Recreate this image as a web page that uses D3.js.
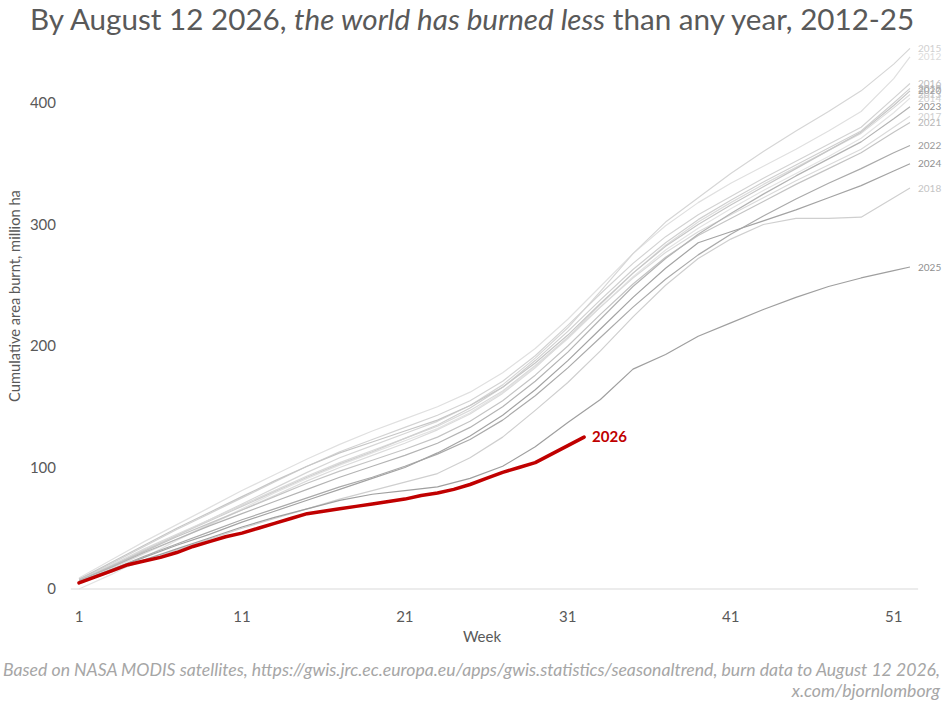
<!DOCTYPE html>
<html>
<head>
<meta charset="utf-8">
<script src="https://cdn.jsdelivr.net/npm/d3@7"></script>
<style>
  body { margin: 0; background: #fff; }
  text { font-family: Lato, "Open Sans", sans-serif; }
</style>
</head>
<body>
<div id="chart"></div>
<script>
// weeks shared by the 2012-2025 series
var weeks = [1, 3, 5, 7, 9, 11, 13, 15, 17, 19, 21, 23, 25, 27, 29, 31, 33, 35, 37, 39, 41, 43, 45, 47, 49, 51, 52];

var burn2012 = [9, 24, 39, 53, 67, 81, 94, 107, 119, 130, 140, 150, 162, 178, 198, 222, 249, 276, 299, 318, 334, 348, 362, 377, 393, 420, 438];
var burn2013 = [6, 17, 29, 41, 53, 65, 77, 89, 100, 110, 120, 131, 144, 161, 182, 207, 234, 260, 283, 302, 318, 333, 347, 361, 375, 396, 407];
var burn2014 = [0, 12, 26, 40, 53, 66, 79, 91, 102, 112, 122, 132, 145, 162, 183, 206, 232, 257, 279, 297, 313, 328, 342, 356, 371, 392, 404];
var burn2015 = [6, 18, 31, 44, 57, 70, 83, 96, 108, 118, 128, 138, 151, 168, 190, 215, 245, 276, 302, 322, 342, 360, 377, 393, 410, 432, 445];
var burn2016 = [8, 21, 35, 49, 62, 75, 88, 101, 113, 123, 133, 143, 155, 171, 192, 217, 243, 268, 290, 308, 323, 338, 352, 366, 380, 404, 416];
var burn2017 = [8, 20, 33, 45, 57, 69, 81, 93, 104, 114, 124, 134, 147, 163, 184, 207, 232, 256, 277, 294, 308, 322, 336, 349, 362, 380, 389];
var burn2018 = [5, 14, 23, 32, 41, 50, 58, 66, 74, 81, 88, 95, 108, 125, 147, 170, 196, 224, 250, 272, 288, 300, 305, 305, 306, 322, 330];
var burn2019 = [7, 19, 32, 44, 56, 68, 80, 92, 103, 113, 124, 135, 149, 166, 188, 212, 238, 263, 285, 304, 320, 335, 349, 363, 377, 400, 412];
var burn2020 = [8, 22, 36, 50, 63, 76, 89, 101, 112, 121, 130, 139, 151, 166, 186, 209, 235, 260, 282, 300, 316, 331, 346, 361, 376, 398, 410];
var burn2021 = [7, 19, 31, 43, 54, 65, 76, 87, 97, 106, 115, 125, 138, 155, 176, 200, 226, 251, 273, 291, 305, 319, 333, 346, 359, 376, 384];
var burn2022 = [6, 16, 27, 37, 47, 57, 66, 75, 84, 92, 101, 111, 123, 139, 159, 182, 207, 232, 255, 275, 292, 307, 321, 334, 346, 359, 365];
var burn2023 = [7, 18, 30, 41, 52, 62, 72, 82, 92, 101, 110, 120, 133, 150, 171, 195, 222, 249, 272, 292, 309, 325, 340, 354, 368, 387, 397];
var burn2024 = [6, 16, 26, 36, 45, 55, 64, 73, 82, 91, 100, 112, 126, 143, 164, 188, 214, 240, 264, 285, 294, 303, 312, 322, 332, 344, 350];
var burn2025 = [6, 15, 24, 33, 42, 51, 59, 66, 73, 78, 81, 84, 91, 101, 117, 137, 156, 181, 193, 208, 219, 230, 240, 249, 256, 262, 265];

// 2026 so far, week by week to August 12
var weeks2026 = [1, 2, 3, 4, 5, 6, 7, 8, 9, 10, 11, 12, 13, 14, 15, 16, 17, 18, 19, 20, 21, 22, 23, 24, 25, 26, 27, 28, 29, 30, 31, 32];
var burn2026 = [5, 10, 15, 20, 23, 26, 30, 35, 39, 43, 46, 50, 54, 58, 62, 64, 66, 68, 70, 72, 74, 77, 79, 82, 86, 91, 96, 100, 104, 111, 118, 125];

var yTicks = [0, 100, 200, 300, 400];
var xTicks = [1, 11, 21, 31, 41, 51];

var pastYears = [
    { year: "2014", values: burn2014 },
    { year: "2012", values: burn2012 },
    { year: "2013", values: burn2013 },
    { year: "2015", values: burn2015 },
    { year: "2017", values: burn2017 },
    { year: "2016", values: burn2016 },
    { year: "2018", values: burn2018 },
    { year: "2019", values: burn2019 },
    { year: "2020", values: burn2020 },
    { year: "2021", values: burn2021 },
    { year: "2023", values: burn2023 },
    { year: "2022", values: burn2022 },
    { year: "2024", values: burn2024 },
    { year: "2025", values: burn2025 }
];

// grey shades, lighter for the older / less notable years
var lineColor = {
    "2012": "#e0e0e0", "2013": "#dcdcdc", "2014": "#e3e3e3", "2015": "#d6d6d6",
    "2016": "#d3d3d3", "2017": "#dadada", "2018": "#cfcfcf", "2019": "#d0d0d0",
    "2020": "#c6c6c6", "2021": "#c4c4c4", "2022": "#aaaaaa", "2023": "#b3b3b3",
    "2024": "#a3a3a3", "2025": "#9f9f9f"
};
var labelColor = {
    "2012": "#dcdcdc", "2013": "#c8c8c8", "2014": "#d0d0d0", "2015": "#d0d0d0",
    "2016": "#bdbdbd", "2017": "#d0d0d0", "2018": "#c4c4c4", "2019": "#b0b0b0",
    "2020": "#a0a0a0", "2021": "#b8b8b8", "2022": "#999999", "2023": "#8f8f8f",
    "2024": "#8f8f8f", "2025": "#8f8f8f"
};

var width = 947, height = 705;

var svg = d3.select("#chart")
    .append("svg")
    .attr("width", width)
    .attr("height", height);

var x = d3.scaleLinear()
    .domain([1, 52])
    .range([79, 910]);

var y = d3.scaleLinear()
    .domain([0, 400])
    .range([589, 103]);

function fitText(sel, target) {
    var size = +sel.attr("font-size");
    var len = sel.node().getComputedTextLength();
    if (len > 0) {
        sel.attr("font-size", size * target / len);
    }
}

// title
var title = svg.append("text")
    .attr("x", 30)
    .attr("y", 30)
    .attr("font-size", 30)
    .attr("fill", "#595959");
title.append("tspan").text("By August 12 2026, ");
title.append("tspan").attr("font-style", "italic").text("the world has burned less");
title.append("tspan").text(" than any year, 2012-25");
fitText(title, 885);

// baseline
svg.append("line")
    .attr("x1", x(0.5))
    .attr("x2", x(52.5))
    .attr("y1", y(0))
    .attr("y2", y(0))
    .attr("stroke", "#d9d9d9")
    .attr("stroke-width", 1);

// y tick labels
svg.selectAll(".ytick")
    .data(yTicks)
    .enter()
    .append("text")
    .attr("class", "ytick")
    .attr("x", 56)
    .attr("y", d => y(d))
    .attr("dy", "0.35em")
    .attr("text-anchor", "end")
    .attr("font-size", 15)
    .attr("fill", "#595959")
    .text(d => d);

// x tick labels
svg.selectAll(".xtick")
    .data(xTicks)
    .enter()
    .append("text")
    .attr("class", "xtick")
    .attr("x", d => x(d))
    .attr("y", 617)
    .attr("dy", "0.35em")
    .attr("text-anchor", "middle")
    .attr("font-size", 15)
    .attr("fill", "#595959")
    .text(d => d);

svg.append("text")
    .attr("x", 482)
    .attr("y", 637)
    .attr("dy", "0.35em")
    .attr("text-anchor", "middle")
    .attr("font-size", 15)
    .attr("fill", "#595959")
    .text("Week");

var ytitle = svg.append("text")
    .attr("transform", "translate(15,296) rotate(-90)")
    .attr("dy", "0.35em")
    .attr("text-anchor", "middle")
    .attr("font-size", 15)
    .attr("fill", "#595959")
    .text("Cumulative area burnt, million ha");
fitText(ytitle, 212);

var line = d3.line()
    .x(d => x(d[0]))
    .y(d => y(d[1]));

// past years
pastYears.forEach(function (s) {
    var pts = weeks.map((w, i) => [w, s.values[i]]);
    svg.append("path")
        .datum(pts)
        .attr("d", line)
        .attr("fill", "none")
        .attr("stroke", lineColor[s.year])
        .attr("stroke-width", 1.2)
        .attr("stroke-linejoin", "round");

    var last = s.values[s.values.length - 1];
    svg.append("text")
        .attr("x", x(52) + 8)
        .attr("y", y(last))
        .attr("dy", "0.35em")
        .attr("font-size", 10)
        .attr("fill", labelColor[s.year])
        .text(s.year);
});

// 2026
var pts2026 = weeks2026.map((w, i) => [w, burn2026[i]]);
svg.append("path")
    .datum(pts2026)
    .attr("d", line)
    .attr("fill", "none")
    .attr("stroke", "#c00000")
    .attr("stroke-width", 3.5)
    .attr("stroke-linejoin", "round")
    .attr("stroke-linecap", "round");

svg.append("text")
    .attr("x", x(32) + 8)
    .attr("y", y(burn2026[burn2026.length - 1]))
    .attr("dy", "0.35em")
    .attr("font-size", 15)
    .attr("font-weight", "bold")
    .attr("fill", "#c00000")
    .text("2026");

// source
var src1 = svg.append("text")
    .attr("x", 940)
    .attr("y", 676)
    .attr("text-anchor", "end")
    .attr("font-size", 15)
    .attr("font-style", "italic")
    .attr("fill", "#a6a6a6")
    .text("Based on NASA MODIS satellites, https://gwis.jrc.ec.europa.eu/apps/gwis.statistics/seasonaltrend, burn data to August 12 2026,");
fitText(src1, 938);

svg.append("text")
    .attr("x", 940)
    .attr("y", 697)
    .attr("text-anchor", "end")
    .attr("font-size", src1.attr("font-size"))
    .attr("font-style", "italic")
    .attr("fill", "#a6a6a6")
    .text("x.com/bjornlomborg");
</script>
</body>
</html>
